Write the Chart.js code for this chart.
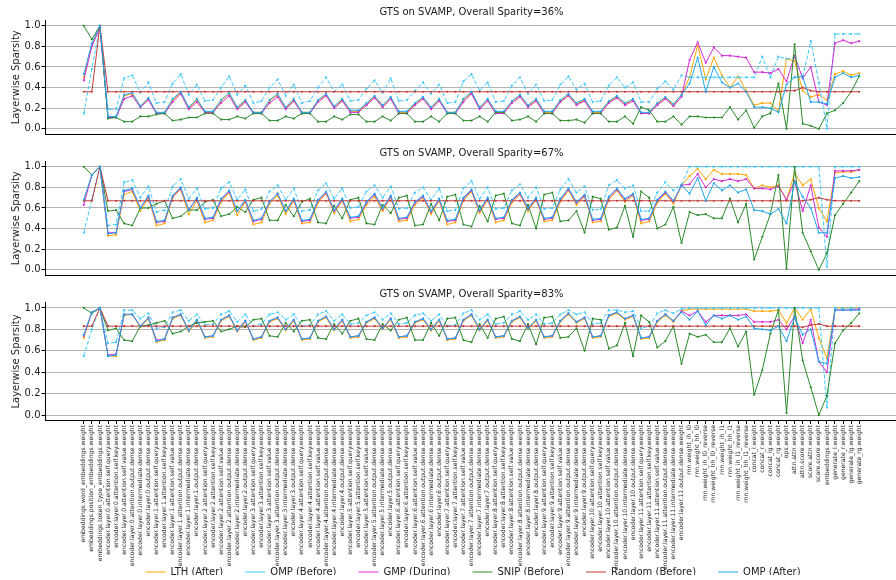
<!DOCTYPE html>
<html>
<head>
<meta charset="utf-8">
<script src="https://cdn.jsdelivr.net/npm/chart.js@4.4.1/dist/chart.umd.min.js"></script>
<style>
  html, body { margin: 0; padding: 0; background: #fff; overflow: hidden; width: 896px; height: 580px; }
  .panel { position: absolute; left: 0; width: 902px; }
</style>
</head>
<body>
<div class="panel" style="top:0;height:141px"><canvas id="p0"></canvas></div>
<div class="panel" style="top:141px;height:141px"><canvas id="p1"></canvas></div>
<div class="panel" style="top:282px;height:298px"><canvas id="p2"></canvas></div>
<div class="panel" style="top:545px;height:60px;width:946px"><canvas id="leg"></canvas></div>
<script>
// layer names on the x axis
const embNames = ['embeddings.word_embeddings.weight', 'embeddings.position_embeddings.weight', 'embeddings.token_type_embeddings.weight'];
const layerParts = ['attention.self.query.weight', 'attention.self.key.weight', 'attention.self.value.weight',
    'attention.output.dense.weight', 'intermediate.dense.weight', 'output.dense.weight'];
const tailNames = ['rnn.weight_ih_l0', 'rnn.weight_hh_l0', 'rnn.weight_ih_l0_reverse', 'rnn.weight_hh_l0_reverse',
    'rnn.weight_ih_l1', 'rnn.weight_hh_l1', 'rnn.weight_ih_l1_reverse', 'rnn.weight_hh_l1_reverse',
    'concat_l.weight', 'concat_r.weight', 'concat_lg.weight', 'concat_rg.weight', 'ops.weight',
    'attn.attn.weight', 'attn.score.weight', 'score.attn.weight', 'score.score.weight', 'embeddings.weight',
    'generate_l.weight', 'generate_r.weight', 'generate_lg.weight', 'generate_rg.weight'];
var labels = embNames.slice();
for (let l = 0; l < 12; l++) {
    layerParts.forEach(function (p) { labels.push('encoder.layer.' + l + '.' + p); });
}
labels = labels.concat(tailNames);

const yTicks = [0.0, 0.2, 0.4, 0.6, 0.8, 1.0];
const titles = ['GTS on SVAMP, Overall Sparity=36%', 'GTS on SVAMP, Overall Sparity=67%', 'GTS on SVAMP, Overall Sparity=83%'];
const seriesNames = ['LTH (After)', 'OMP (Before)', 'GMP (During)', 'SNIP (Before)', 'Random (Before)', 'OMP (After)'];

// ---- 36% ----
const lth1 = [0.50, 0.82, 1.00,
    0.11, 0.11, 0.32, 0.34, 0.22, 0.29,  0.15, 0.15, 0.28, 0.35, 0.20, 0.28,  0.16, 0.16, 0.27, 0.34, 0.20, 0.27,
    0.16, 0.16, 0.27, 0.33, 0.20, 0.28,  0.16, 0.16, 0.27, 0.33, 0.21, 0.28,  0.17, 0.17, 0.24, 0.31, 0.22, 0.30,
    0.16, 0.16, 0.24, 0.30, 0.20, 0.28,  0.16, 0.16, 0.28, 0.35, 0.20, 0.28,  0.16, 0.16, 0.26, 0.32, 0.22, 0.28,
    0.16, 0.16, 0.27, 0.33, 0.24, 0.28,  0.16, 0.16, 0.26, 0.31, 0.24, 0.28,  0.15, 0.15, 0.24, 0.30, 0.23, 0.33,
    0.50, 0.81, 0.48, 0.69, 0.52, 0.40, 0.51, 0.37,
    0.23, 0.25, 0.25, 0.17, 0.68, 0.66, 0.37, 0.31, 0.33, 0.28, 0.53, 0.56, 0.52, 0.54];
const ompB1 = [0.15, 0.58, 1.00,
    0.19, 0.19, 0.49, 0.52, 0.35, 0.45,  0.25, 0.26, 0.44, 0.53, 0.33, 0.43,  0.27, 0.28, 0.40, 0.51, 0.33, 0.42,
    0.25, 0.27, 0.40, 0.48, 0.32, 0.43,  0.25, 0.27, 0.40, 0.50, 0.36, 0.43,  0.27, 0.28, 0.39, 0.47, 0.35, 0.49,
    0.27, 0.28, 0.37, 0.45, 0.34, 0.43,  0.25, 0.26, 0.46, 0.53, 0.37, 0.45,  0.26, 0.27, 0.42, 0.50, 0.34, 0.43,
    0.27, 0.28, 0.43, 0.51, 0.38, 0.44,  0.26, 0.27, 0.42, 0.50, 0.40, 0.45,  0.26, 0.26, 0.39, 0.46, 0.38, 0.52,
    0.50, 0.50, 0.50, 0.50, 0.50, 0.50, 0.50, 0.50,
    0.50, 0.70, 0.50, 0.70, 0.68, 0.69, 0.50, 0.85, 0.45, 0.00, 0.92, 0.92, 0.92, 0.92];
const gmp1 = [0.47, 0.80, 0.98,
    0.11, 0.11, 0.29, 0.32, 0.21, 0.28,  0.15, 0.15, 0.26, 0.34, 0.19, 0.26,  0.16, 0.16, 0.25, 0.32, 0.19, 0.26,
    0.15, 0.15, 0.25, 0.31, 0.19, 0.27,  0.15, 0.15, 0.26, 0.32, 0.20, 0.27,  0.16, 0.16, 0.23, 0.30, 0.21, 0.29,
    0.15, 0.15, 0.23, 0.29, 0.19, 0.27,  0.15, 0.15, 0.26, 0.34, 0.19, 0.27,  0.15, 0.15, 0.25, 0.31, 0.21, 0.27,
    0.15, 0.15, 0.26, 0.32, 0.23, 0.27,  0.15, 0.15, 0.25, 0.30, 0.23, 0.27,  0.15, 0.15, 0.23, 0.29, 0.22, 0.31,
    0.67, 0.84, 0.64, 0.79, 0.71, 0.71, 0.70, 0.69,
    0.55, 0.55, 0.54, 0.58, 0.46, 0.71, 0.49, 0.60, 0.26, 0.23, 0.83, 0.86, 0.83, 0.85];
const snip1 = [1.00, 0.87, 1.00,
    0.10, 0.11, 0.07, 0.07, 0.12, 0.12,  0.14, 0.15, 0.08, 0.09, 0.11, 0.11,  0.15, 0.15, 0.09, 0.09, 0.12, 0.10,
    0.15, 0.15, 0.08, 0.08, 0.12, 0.10,  0.15, 0.15, 0.07, 0.07, 0.12, 0.09,  0.14, 0.14, 0.07, 0.07, 0.12, 0.08,
    0.15, 0.15, 0.07, 0.07, 0.12, 0.07,  0.15, 0.15, 0.08, 0.08, 0.12, 0.07,  0.16, 0.16, 0.08, 0.09, 0.12, 0.07,
    0.15, 0.15, 0.08, 0.08, 0.09, 0.06,  0.15, 0.15, 0.07, 0.07, 0.12, 0.05,  0.21, 0.18, 0.07, 0.07, 0.12, 0.04,
    0.12, 0.12, 0.11, 0.11, 0.11, 0.21, 0.09, 0.18,
    0.01, 0.12, 0.15, 0.44, 0.00, 0.82, 0.05, 0.03, 0.00, 0.15, 0.18, 0.25, 0.36, 0.51];
const rand1 = [0.36, 0.36, 1.00,
    0.36, 0.36, 0.36, 0.36, 0.36, 0.36,  0.36, 0.36, 0.36, 0.36, 0.36, 0.36,  0.36, 0.36, 0.36, 0.36, 0.36, 0.36,
    0.36, 0.36, 0.36, 0.36, 0.36, 0.36,  0.36, 0.36, 0.36, 0.36, 0.36, 0.36,  0.36, 0.36, 0.36, 0.36, 0.36, 0.36,
    0.36, 0.36, 0.36, 0.36, 0.36, 0.36,  0.36, 0.36, 0.36, 0.36, 0.36, 0.36,  0.36, 0.36, 0.36, 0.36, 0.36, 0.36,
    0.36, 0.36, 0.36, 0.36, 0.36, 0.36,  0.36, 0.36, 0.36, 0.36, 0.36, 0.36,  0.36, 0.36, 0.36, 0.36, 0.36, 0.36,
    0.36, 0.36, 0.36, 0.36, 0.36, 0.36, 0.36, 0.36,
    0.36, 0.36, 0.36, 0.36, 0.37, 0.37, 0.40, 0.37, 0.36, 0.36, 0.36, 0.36, 0.36, 0.36];
const ompA1 = [0.53, 0.83, 1.00,
    0.12, 0.12, 0.33, 0.35, 0.22, 0.30,  0.16, 0.16, 0.29, 0.36, 0.21, 0.29,  0.17, 0.17, 0.28, 0.35, 0.21, 0.28,
    0.16, 0.16, 0.28, 0.34, 0.21, 0.29,  0.16, 0.16, 0.28, 0.34, 0.22, 0.29,  0.18, 0.18, 0.25, 0.32, 0.23, 0.31,
    0.17, 0.17, 0.25, 0.31, 0.21, 0.29,  0.16, 0.16, 0.29, 0.36, 0.21, 0.29,  0.17, 0.17, 0.27, 0.33, 0.23, 0.29,
    0.17, 0.17, 0.28, 0.34, 0.25, 0.29,  0.17, 0.17, 0.27, 0.32, 0.25, 0.29,  0.16, 0.16, 0.25, 0.31, 0.24, 0.33,
    0.44, 0.69, 0.36, 0.60, 0.45, 0.40, 0.44, 0.36,
    0.21, 0.21, 0.20, 0.16, 0.43, 0.50, 0.51, 0.26, 0.26, 0.24, 0.50, 0.54, 0.50, 0.52];

// ---- 67% ----
const lth2 = [0.67, 0.92, 1.00,
    0.33, 0.34, 0.73, 0.76, 0.57, 0.70,  0.43, 0.45, 0.70, 0.78, 0.54, 0.67,  0.46, 0.48, 0.66, 0.75, 0.53, 0.66,
    0.44, 0.46, 0.64, 0.72, 0.54, 0.67,  0.45, 0.46, 0.65, 0.74, 0.55, 0.67,  0.47, 0.49, 0.63, 0.71, 0.57, 0.70,
    0.47, 0.48, 0.63, 0.70, 0.54, 0.67,  0.44, 0.46, 0.67, 0.76, 0.55, 0.68,  0.46, 0.48, 0.65, 0.73, 0.57, 0.68,
    0.47, 0.48, 0.66, 0.77, 0.63, 0.71,  0.46, 0.47, 0.68, 0.77, 0.66, 0.72,  0.45, 0.47, 0.65, 0.74, 0.64, 0.82,
    0.91, 0.98, 0.88, 0.97, 0.93, 0.93, 0.93, 0.92,
    0.79, 0.82, 0.80, 0.82, 0.68, 0.94, 0.82, 0.88, 0.60, 0.47, 0.94, 0.95, 0.95, 0.97];
const ompB2 = [0.36, 0.68, 1.00,
    0.43, 0.44, 0.85, 0.87, 0.70, 0.81,  0.56, 0.58, 0.81, 0.88, 0.69, 0.79,  0.59, 0.60, 0.79, 0.85, 0.68, 0.78,
    0.57, 0.59, 0.76, 0.82, 0.68, 0.79,  0.57, 0.58, 0.77, 0.84, 0.69, 0.79,  0.60, 0.61, 0.76, 0.82, 0.70, 0.81,
    0.59, 0.60, 0.75, 0.80, 0.68, 0.79,  0.57, 0.58, 0.79, 0.86, 0.69, 0.80,  0.59, 0.60, 0.77, 0.83, 0.70, 0.80,
    0.59, 0.60, 0.78, 0.88, 0.75, 0.81,  0.58, 0.59, 0.82, 0.87, 0.79, 0.82,  0.57, 0.57, 0.75, 0.85, 0.77, 0.83,
    1.00, 1.00, 1.00, 1.00, 1.00, 1.00, 1.00, 1.00,
    1.00, 1.00, 1.00, 1.00, 1.00, 1.00, 1.00, 1.00, 1.00, 0.03, 1.00, 1.00, 1.00, 1.00];
const gmp2 = [0.63, 0.92, 1.00,
    0.36, 0.36, 0.76, 0.78, 0.60, 0.71,  0.46, 0.47, 0.71, 0.79, 0.58, 0.69,  0.49, 0.50, 0.68, 0.76, 0.57, 0.67,
    0.47, 0.49, 0.66, 0.74, 0.57, 0.68,  0.47, 0.48, 0.67, 0.75, 0.57, 0.68,  0.50, 0.51, 0.65, 0.73, 0.59, 0.71,
    0.49, 0.50, 0.65, 0.71, 0.56, 0.68,  0.47, 0.48, 0.69, 0.77, 0.57, 0.69,  0.49, 0.50, 0.67, 0.74, 0.59, 0.69,
    0.49, 0.50, 0.68, 0.78, 0.65, 0.72,  0.48, 0.49, 0.70, 0.78, 0.68, 0.73,  0.48, 0.49, 0.67, 0.75, 0.66, 0.82,
    0.83, 0.93, 0.80, 0.88, 0.86, 0.88, 0.86, 0.88,
    0.79, 0.79, 0.78, 0.81, 0.68, 0.86, 0.57, 0.82, 0.41, 0.32, 0.96, 0.96, 0.96, 0.97];
const snip2 = [1.00, 0.92, 1.00,
    0.57, 0.58, 0.45, 0.43, 0.60, 0.60,  0.64, 0.67, 0.50, 0.52, 0.58, 0.58,  0.66, 0.68, 0.52, 0.54, 0.61, 0.56,
    0.68, 0.70, 0.48, 0.48, 0.63, 0.52,  0.66, 0.69, 0.46, 0.45, 0.62, 0.50,  0.68, 0.70, 0.45, 0.44, 0.63, 0.55,
    0.70, 0.72, 0.43, 0.44, 0.64, 0.48,  0.71, 0.73, 0.44, 0.42, 0.62, 0.47,  0.72, 0.74, 0.45, 0.43, 0.63, 0.40,
    0.73, 0.75, 0.47, 0.48, 0.57, 0.36,  0.71, 0.69, 0.39, 0.41, 0.62, 0.32,  0.76, 0.70, 0.40, 0.44, 0.61, 0.26,
    0.56, 0.53, 0.54, 0.50, 0.50, 0.69, 0.46, 0.64,
    0.10, 0.32, 0.54, 0.92, 0.01, 1.00, 0.36, 0.18, 0.00, 0.16, 0.53, 0.64, 0.75, 0.86];
const rand2 = [0.67, 0.67, 1.00,
    0.67, 0.67, 0.67, 0.67, 0.67, 0.67,  0.67, 0.67, 0.67, 0.67, 0.67, 0.67,  0.67, 0.67, 0.67, 0.67, 0.67, 0.67,
    0.67, 0.67, 0.67, 0.67, 0.67, 0.67,  0.67, 0.67, 0.67, 0.67, 0.67, 0.67,  0.67, 0.67, 0.67, 0.67, 0.67, 0.67,
    0.67, 0.67, 0.67, 0.67, 0.67, 0.67,  0.67, 0.67, 0.67, 0.67, 0.67, 0.67,  0.67, 0.67, 0.67, 0.67, 0.67, 0.67,
    0.67, 0.67, 0.67, 0.67, 0.67, 0.67,  0.67, 0.67, 0.67, 0.67, 0.67, 0.67,  0.67, 0.67, 0.67, 0.67, 0.67, 0.67,
    0.67, 0.67, 0.67, 0.67, 0.67, 0.67, 0.67, 0.67,
    0.67, 0.67, 0.67, 0.67, 0.67, 0.67, 0.67, 0.68, 0.70, 0.68, 0.67, 0.67, 0.67, 0.67];
const ompA2 = [0.68, 0.92, 1.00,
    0.35, 0.36, 0.77, 0.79, 0.60, 0.72,  0.47, 0.48, 0.72, 0.80, 0.58, 0.70,  0.50, 0.51, 0.69, 0.77, 0.57, 0.68,
    0.48, 0.50, 0.66, 0.74, 0.57, 0.69,  0.48, 0.49, 0.68, 0.76, 0.58, 0.69,  0.51, 0.52, 0.66, 0.74, 0.60, 0.72,
    0.50, 0.51, 0.66, 0.72, 0.57, 0.69,  0.48, 0.49, 0.70, 0.78, 0.58, 0.70,  0.50, 0.51, 0.68, 0.75, 0.60, 0.70,
    0.50, 0.51, 0.69, 0.79, 0.66, 0.73,  0.49, 0.50, 0.71, 0.79, 0.69, 0.74,  0.49, 0.50, 0.68, 0.76, 0.67, 0.82,
    0.74, 0.89, 0.67, 0.84, 0.77, 0.82, 0.75, 0.78,
    0.58, 0.57, 0.54, 0.59, 0.45, 0.85, 0.71, 0.60, 0.36, 0.36, 0.89, 0.91, 0.89, 0.90];

// ---- 83% ----
const lth3 = [0.72, 0.96, 1.00,
    0.55, 0.55, 0.93, 0.94, 0.82, 0.90,  0.68, 0.70, 0.90, 0.93, 0.78, 0.88,  0.72, 0.73, 0.88, 0.92, 0.78, 0.87,
    0.70, 0.72, 0.87, 0.90, 0.79, 0.88,  0.70, 0.71, 0.87, 0.91, 0.79, 0.88,  0.72, 0.73, 0.86, 0.90, 0.80, 0.89,
    0.72, 0.73, 0.86, 0.89, 0.79, 0.88,  0.70, 0.71, 0.88, 0.93, 0.79, 0.88,  0.72, 0.73, 0.87, 0.91, 0.80, 0.88,
    0.72, 0.73, 0.87, 0.94, 0.86, 0.90,  0.72, 0.73, 0.92, 0.95, 0.89, 0.92,  0.71, 0.72, 0.87, 0.93, 0.87, 0.97,
    0.99, 0.99, 0.99, 0.99, 0.99, 0.99, 0.99, 0.99,
    0.97, 0.97, 0.97, 0.98, 0.86, 1.00, 0.89, 0.99, 0.72, 0.53, 1.00, 1.00, 1.00, 1.00];
const ompB3 = [0.55, 0.80, 1.00,
    0.67, 0.68, 0.98, 0.98, 0.90, 0.95,  0.81, 0.82, 0.96, 0.98, 0.88, 0.94,  0.84, 0.85, 0.94, 0.97, 0.87, 0.94,
    0.83, 0.85, 0.94, 0.96, 0.89, 0.94,  0.83, 0.84, 0.94, 0.97, 0.88, 0.94,  0.85, 0.86, 0.93, 0.96, 0.89, 0.95,
    0.85, 0.86, 0.93, 0.95, 0.88, 0.94,  0.83, 0.84, 0.95, 0.98, 0.89, 0.94,  0.85, 0.86, 0.94, 0.97, 0.89, 0.94,
    0.85, 0.86, 0.94, 0.98, 0.94, 0.96,  0.85, 0.86, 0.98, 0.98, 0.96, 0.97,  0.81, 0.83, 0.95, 0.98, 0.95, 0.99,
    1.00, 1.00, 1.00, 1.00, 1.00, 1.00, 1.00, 1.00,
    1.00, 1.00, 1.00, 1.00, 1.00, 1.00, 1.00, 1.00, 1.00, 0.07, 1.00, 1.00, 1.00, 1.00];
const gmp3 = [0.74, 0.96, 1.00,
    0.56, 0.57, 0.94, 0.94, 0.83, 0.91,  0.70, 0.71, 0.91, 0.94, 0.79, 0.89,  0.73, 0.74, 0.89, 0.93, 0.79, 0.88,
    0.71, 0.73, 0.88, 0.91, 0.80, 0.89,  0.71, 0.72, 0.88, 0.92, 0.80, 0.89,  0.73, 0.74, 0.87, 0.91, 0.81, 0.90,
    0.73, 0.74, 0.87, 0.90, 0.80, 0.89,  0.71, 0.72, 0.89, 0.94, 0.80, 0.89,  0.73, 0.74, 0.88, 0.92, 0.81, 0.89,
    0.73, 0.74, 0.88, 0.95, 0.87, 0.91,  0.73, 0.74, 0.93, 0.96, 0.90, 0.93,  0.72, 0.73, 0.88, 0.94, 0.88, 0.97,
    0.93, 0.97, 0.87, 0.93, 0.93, 0.93, 0.93, 0.94,
    0.87, 0.87, 0.87, 0.89, 0.80, 0.92, 0.67, 0.89, 0.50, 0.40, 0.98, 0.98, 0.98, 0.99];
const snip3 = [1.00, 0.95, 1.00,
    0.79, 0.81, 0.70, 0.69, 0.83, 0.84,  0.86, 0.88, 0.76, 0.78, 0.83, 0.86,  0.87, 0.88, 0.78, 0.80, 0.83, 0.82,
    0.89, 0.90, 0.74, 0.73, 0.86, 0.78,  0.88, 0.89, 0.72, 0.71, 0.85, 0.76,  0.88, 0.90, 0.71, 0.70, 0.85, 0.79,
    0.89, 0.91, 0.70, 0.70, 0.86, 0.74,  0.90, 0.91, 0.70, 0.68, 0.85, 0.72,  0.90, 0.92, 0.71, 0.69, 0.85, 0.66,
    0.91, 0.92, 0.72, 0.73, 0.81, 0.60,  0.90, 0.89, 0.62, 0.65, 0.86, 0.55,  0.93, 0.87, 0.63, 0.69, 0.83, 0.48,
    0.76, 0.73, 0.75, 0.68, 0.68, 0.81, 0.64, 0.78,
    0.19, 0.42, 0.76, 0.98, 0.02, 1.00, 0.51, 0.26, 0.00, 0.18, 0.67, 0.79, 0.86, 0.95];
const rand3 = [0.83, 0.83, 1.00,
    0.83, 0.83, 0.83, 0.83, 0.83, 0.83,  0.83, 0.83, 0.83, 0.83, 0.83, 0.83,  0.83, 0.83, 0.83, 0.83, 0.83, 0.83,
    0.83, 0.83, 0.83, 0.83, 0.83, 0.83,  0.83, 0.83, 0.83, 0.83, 0.83, 0.83,  0.83, 0.83, 0.83, 0.83, 0.83, 0.83,
    0.83, 0.83, 0.83, 0.83, 0.83, 0.83,  0.83, 0.83, 0.83, 0.83, 0.83, 0.83,  0.83, 0.83, 0.83, 0.83, 0.83, 0.83,
    0.83, 0.83, 0.83, 0.83, 0.83, 0.83,  0.83, 0.83, 0.83, 0.83, 0.83, 0.83,  0.83, 0.83, 0.83, 0.83, 0.83, 0.83,
    0.83, 0.83, 0.83, 0.83, 0.83, 0.83, 0.83, 0.83,
    0.83, 0.83, 0.83, 0.83, 0.83, 0.83, 0.82, 0.84, 0.85, 0.83, 0.83, 0.83, 0.83, 0.83];
const ompA3 = [0.75, 0.96, 1.00,
    0.55, 0.56, 0.94, 0.94, 0.83, 0.91,  0.69, 0.71, 0.91, 0.94, 0.79, 0.89,  0.73, 0.74, 0.89, 0.93, 0.79, 0.88,
    0.71, 0.73, 0.88, 0.91, 0.80, 0.89,  0.71, 0.72, 0.88, 0.92, 0.80, 0.89,  0.73, 0.74, 0.87, 0.91, 0.81, 0.90,
    0.73, 0.74, 0.87, 0.90, 0.80, 0.89,  0.71, 0.72, 0.89, 0.94, 0.80, 0.89,  0.73, 0.74, 0.88, 0.92, 0.81, 0.89,
    0.73, 0.74, 0.88, 0.95, 0.87, 0.91,  0.73, 0.74, 0.93, 0.96, 0.90, 0.93,  0.72, 0.73, 0.88, 0.94, 0.88, 0.96,
    0.89, 0.97, 0.84, 0.93, 0.90, 0.93, 0.89, 0.92,
    0.81, 0.80, 0.79, 0.83, 0.69, 0.91, 0.75, 0.80, 0.50, 0.48, 0.98, 0.98, 0.98, 0.98];

const panels = [
    [lth1, ompB1, gmp1, snip1, rand1, ompA1],
    [lth2, ompB2, gmp2, snip2, rand2, ompA2],
    [lth3, ompB3, gmp3, snip3, rand3, ompA3]
];

const colors = ['#ffa500', '#3cc8ff', '#d42ad4', '#2b8a2b', '#c23b3b', '#1ea7ee'];
const dashes = [[], [4, 2], [], [], [], []];
const FONT = 'DejaVu Sans';
Chart.defaults.font.family = FONT;

function makeDatasets(series) {
    var datasets = [];
    series.forEach(function (values, k) {
        datasets.push({
            label: seriesNames[k],
            data: values.map(function (v, i) { return {x: i, y: v}; }),
            borderColor: colors[k],
            backgroundColor: colors[k],
            borderWidth: 1,
            borderDash: dashes[k],
            pointRadius: 1.1,
            pointBorderWidth: 0,
            pointBackgroundColor: colors[k],
            tension: 0,
            fill: false,
            order: 6 - k
        });
    });
    return datasets;
}

function drawPanel(canvasID, idx, isLast, xHeight) {
    const config = {
        type: 'line',
        data: {datasets: makeDatasets(panels[idx])},
        options: {
            animation: false,
            responsive: true,
            maintainAspectRatio: false,
            events: [],
            layout: {padding: 0},
            plugins: {
                legend: {display: false},
                tooltip: {enabled: false},
                title: {
                    display: true,
                    text: titles[idx],
                    fullSize: false,
                    color: '#1a1a1a',
                    font: {size: 10, weight: 'normal', family: FONT},
                    padding: {top: 6.7, bottom: 1.9}
                }
            },
            scales: {
                x: {
                    type: 'linear',
                    min: -4.8,
                    max: 100.8,
                    afterBuildTicks: function (scale) {
                        scale.ticks = labels.map(function (_, i) { return {value: i}; });
                    },
                    afterFit: function (scale) { scale.height = xHeight; },
                    grid: {display: isLast, drawOnChartArea: false, drawTicks: true, tickLength: 3.5, tickColor: '#000'},
                    border: {display: true, color: '#000', width: 1},
                    ticks: {
                        display: isLast,
                        autoSkip: false,
                        minRotation: 90,
                        maxRotation: 90,
                        padding: 1,
                        color: '#222',
                        font: {size: 6.1, family: FONT},
                        callback: function (value, index) { return labels[index]; }
                    }
                },
                y: {
                    min: -0.05,
                    max: 1.05,
                    afterBuildTicks: function (scale) {
                        scale.ticks = yTicks.map(function (v) { return {value: v}; });
                    },
                    afterFit: function (scale) { scale.width = 45; },
                    grid: {color: '#b4b4b4', lineWidth: 1, tickColor: '#000', tickLength: 3.5},
                    border: {display: true, color: '#000', width: 1},
                    ticks: {
                        color: '#222',
                        padding: 1,
                        font: {size: 10, family: FONT},
                        callback: function (value) { return value.toFixed(1); }
                    },
                    title: {
                        display: true,
                        text: 'Layerwise Sparsity',
                        color: '#222',
                        font: {size: 10, family: FONT},
                        padding: {top: 10, bottom: 0}
                    }
                }
            }
        }
    };
    return new Chart(document.getElementById(canvasID), config);
}

drawPanel('p0', 0, false, 2.6);
drawPanel('p1', 1, false, 2.6);
drawPanel('p2', 2, true, 159.6);

// legend only, centred under the plot area
var legendSets = [];
seriesNames.forEach(function (name, k) {
    legendSets.push({label: name, data: [], borderColor: colors[k], backgroundColor: colors[k],
        borderWidth: 1, borderDash: dashes[k]});
});
new Chart(document.getElementById('leg'), {
    type: 'line',
    data: {datasets: legendSets},
    options: {
        animation: false,
        responsive: true,
        maintainAspectRatio: false,
        events: [],
        scales: {x: {display: false}, y: {display: false}},
        plugins: {
            tooltip: {enabled: false},
            legend: {
                position: 'top',
                labels: {
                    usePointStyle: true,
                    pointStyle: 'line',
                    pointStyleWidth: 20,
                    padding: 22,
                    color: '#222',
                    font: {size: 10, family: FONT}
                }
            }
        }
    }
});
</script>
</body>
</html>
